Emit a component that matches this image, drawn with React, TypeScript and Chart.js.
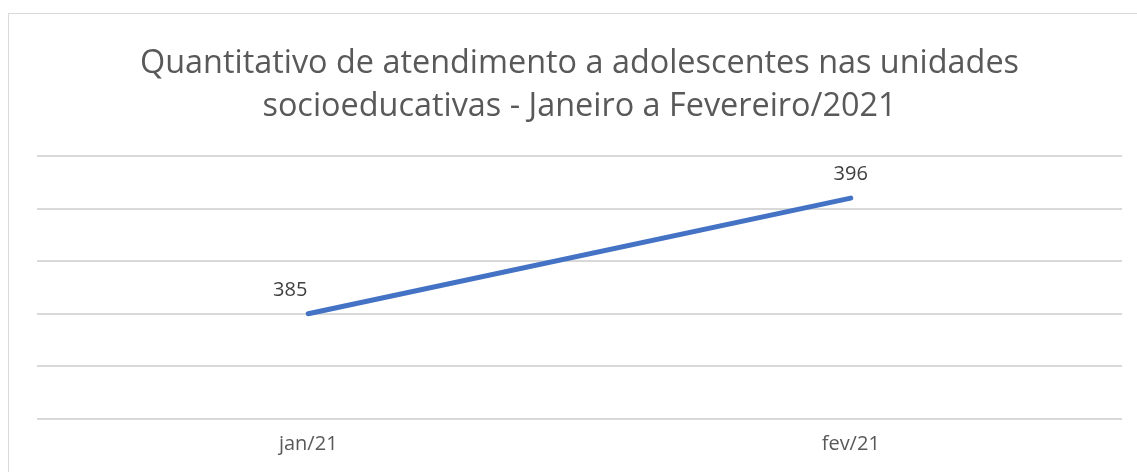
import React, { useEffect, useRef } from "react";
import { Chart, registerables } from "chart.js";

Chart.register(...registerables);

const categories = ["jan/21", "fev/21"];
const atendimentos = [385, 396];
const titleLines = [
  "Quantitativo de atendimento a adolescentes nas unidades",
  "socioeducativas - Janeiro a Fevereiro/2021",
];
const yMin = 375;
const yMax = 400;
const yStep = 5;

const FONT = "'Open Sans', 'Noto Sans', sans-serif";

const labelPlugin = {
  id: "pointLabels",
  afterDatasetsDraw(chart: any) {
    const ctx = chart.ctx;
    const meta = chart.getDatasetMeta(0);
    const dx = [-18, 0];
    ctx.save();
    ctx.font = `20px ${FONT}`;
    ctx.fillStyle = "#404040";
    ctx.textAlign = "center";
    ctx.textBaseline = "middle";
    meta.data.forEach((pt: any, i: number) => {
      ctx.fillText(String(atendimentos[i]), pt.x + (dx[i] || 0), pt.y - 24);
    });
    ctx.restore();
  },
};

export default function App() {
  const ref = useRef<HTMLCanvasElement | null>(null);
  useEffect(() => {
    if (!ref.current) return;
    const chart = new Chart(ref.current, {
      type: "line",
      data: {
        labels: categories,
        datasets: [
          {
            data: atendimentos,
            borderColor: "#4472C4",
            borderWidth: 5,
            borderCapStyle: "round",
            pointRadius: 0,
            fill: false,
            tension: 0,
          },
        ],
      },
      options: {
        animation: false,
        responsive: false,
        layout: { padding: { left: 28, right: 15, top: 0, bottom: 3 } },
        plugins: {
          legend: { display: false },
          tooltip: { enabled: false },
          title: {
            display: true,
            text: titleLines,
            color: "#595959",
            font: { family: FONT, size: 32.4, weight: "normal", lineHeight: 43 / 32.4 },
            padding: { top: 28, bottom: 28 },
          },
        },
        scales: {
          x: {
            offset: true,
            grid: { display: false, drawTicks: false },
            border: { display: false },
            ticks: {
              color: "#595959",
              font: { family: FONT, size: 20 },
              padding: 13,
            },
          },
          y: {
            min: yMin,
            max: yMax,
            ticks: { display: false, stepSize: yStep },
            grid: { color: "#d9d9d9", lineWidth: 2, drawTicks: false },
            border: { display: false },
          },
        },
      },
      plugins: [labelPlugin],
    });
    return () => chart.destroy();
  }, []);
  return (
    <div
      style={{
        position: "fixed",
        left: 8,
        top: 13,
        right: 0,
        bottom: 0,
        overflow: "hidden",
        borderLeft: "1px solid #d9d9d9",
        borderTop: "1px solid #d9d9d9",
        background: "#fff",
      }}
    >
      <canvas ref={ref} width={1128} height={458} style={{ display: "block" }} />
    </div>
  );
}
